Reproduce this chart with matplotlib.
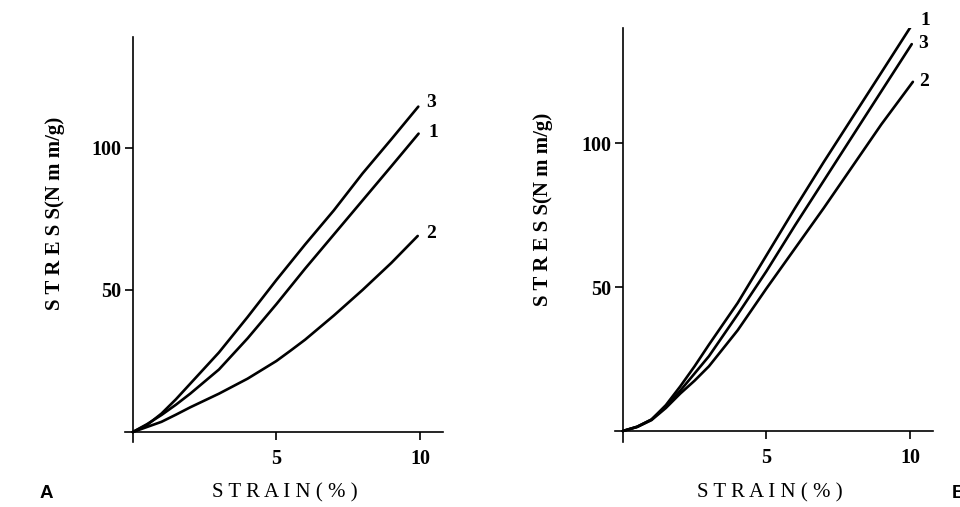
import matplotlib
matplotlib.use("Agg")
import matplotlib.pyplot as plt

# panel A: stress-strain curves 1, 2, 3
xa1 = [0, 0.5, 1, 1.5, 2, 3, 4, 5, 6, 7, 8, 9, 9.95]
ya1 = [0, 2.8, 6, 9.6, 13.5, 22, 33, 45, 57.5, 69.5, 81.5, 93.5, 105]
xa2 = [0, 0.5, 1, 1.5, 2, 2.5, 3, 4, 5, 5.5, 6, 7, 8, 9, 9.92]
ya2 = [0, 1.8, 3.6, 6.1, 8.7, 11.1, 13.5, 18.8, 25, 28.7, 32.5, 41, 50, 59.5, 69]
xa3 = [0, 0.5, 1, 1.5, 2, 3, 4, 5, 6, 7, 8, 9, 9.94]
ya3 = [0, 2.5, 6.5, 11.5, 17, 28, 40.5, 53.5, 66, 78, 91, 103, 114.5]

# panel B
xb1 = [0, 0.5, 1, 1.5, 2, 2.5, 3, 4, 5, 6, 7, 8, 9, 10.08]
yb1 = [0, 1.5, 4, 9, 15.5, 22.5, 30, 44.5, 61, 77.5, 93.5, 109, 124.5, 141.3]
xb3 = [0, 0.5, 1, 1.5, 2, 2.5, 3, 4, 5, 6, 7, 8, 9, 10.06]
yb3 = [0, 1.5, 4, 8.5, 14, 20, 26, 40.5, 55.5, 71.5, 87, 102.5, 118, 134.4]
xb2 = [0, 0.5, 1, 1.5, 2, 2.5, 3, 4, 5, 6, 7, 8, 9, 10.1]
yb2 = [0, 1.4, 3.8, 8, 13, 17.5, 22.5, 35, 49.5, 63.5, 77.5, 92, 106.5, 121.3]

xticks = [5, 10]
yticks = [50, 100]

serif = "Liberation Serif"
fig = plt.figure(figsize=(9.6, 5.07), dpi=100)

def panel(rect, ylim, curves, labels):
    ax = fig.add_axes(rect)
    for x, y in curves:
        ax.plot(x, y, color="black", lw=1.9, solid_capstyle="round")
    for txt, (lx, ly) in labels:
        ax.text(lx, ly, txt, fontfamily=serif, fontweight="bold", fontsize=14,
                ha="left", va="center")
    ax.set_xlim(-0.27, 10.8)
    ax.set_ylim(*ylim)
    ax.spines["left"].set_position(("data", 0))
    ax.spines["bottom"].set_position(("data", 0))
    ax.spines["top"].set_visible(False)
    ax.spines["right"].set_visible(False)
    for s in ("left", "bottom"):
        ax.spines[s].set_linewidth(1.2)
    ax.set_xticks(xticks)
    ax.set_yticks(yticks)
    ax.tick_params(axis="both", direction="out", length=6, width=1.2, labelsize=14.5)
    ax.tick_params(axis="x", pad=6)
    ax.tick_params(axis="y", pad=2)
    for t in ax.get_xticklabels() + ax.get_yticklabels():
        t.set_fontfamily(serif)
        t.set_fontweight("bold")
    ax.patch.set_visible(False)
    return ax

axA = panel([125 / 960, 1 - 442 / 507, 318 / 960, 405 / 507], (-3.5, 139),
            [(xa3, ya3), (xa1, ya1), (xa2, ya2)],
            [("3", (10.2, 116)), ("1", (10.3, 105.5)), ("2", (10.2, 70))])
axB = panel([615 / 960, 1 - 442 / 507, 318 / 960, 414 / 507], (-3.8, 140),
            [(xb1, yb1), (xb3, yb3), (xb2, yb2)],
            [("1", (10.35, 142.5)), ("3", (10.3, 134.5)), ("2", (10.3, 121.5))])

ylab = "S T R E S S(N m m/g)"
xlab = "S T R A I N ( % )"
for cx, cy in [(55, 213), (543, 209)]:
    fig.text(cx / 960, 1 - cy / 507, ylab, rotation=90, ha="center", va="center",
             fontfamily=serif, fontweight="bold", fontsize=15)
for cx in [285, 770]:
    fig.text(cx / 960, 1 - 493 / 507, xlab, ha="center", va="center",
             fontfamily=serif, fontsize=15)

fig.text(40 / 960, 1 - 493 / 507, "A", ha="left", va="center",
         fontfamily="Liberation Sans", fontweight="bold", fontsize=13.5)
fig.text(952 / 960, 1 - 493 / 507, "B", ha="left", va="center",
         fontfamily="Liberation Sans", fontweight="bold", fontsize=13.5)

fig.savefig("out.png", dpi=100)
